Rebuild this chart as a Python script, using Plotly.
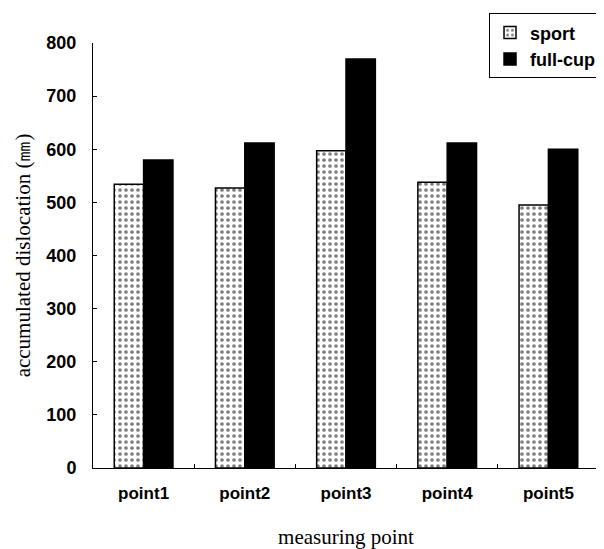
import plotly.graph_objects as go

categories = ["point1", "point2", "point3", "point4", "point5"]
sport = [534, 527, 597, 538, 495]
full_cup = [580, 612, 770, 612, 600]

fig = go.Figure()
fig.add_trace(go.Bar(
    x=categories, y=sport, name="sport",
    marker=dict(color="white", line=dict(color="black", width=1.5),
                pattern=dict(shape=".", fgcolor="black", bgcolor="white", size=6, solidity=0.3)),
))
fig.add_trace(go.Bar(
    x=categories, y=full_cup, name="full-cup",
    marker=dict(color="black", line=dict(color="black", width=1.5)),
))

# the page body has an 8px default margin, so the figure is 8px smaller
fig.update_layout(
    width=596, height=541,
    margin=dict(l=85, r=5, t=35, b=81, autoexpand=False),
    paper_bgcolor="white", plot_bgcolor="white",
    barmode="group", bargap=0.42, bargroupgap=0,
    showlegend=True,
    legend=dict(xref="container", yref="container", x=0.995, y=0.99,
                xanchor="right", yanchor="top",
                bordercolor="black", borderwidth=1, bgcolor="white",
                font=dict(family="Liberation Sans", size=18, color="black", weight="bold"),
                itemwidth=30, tracegroupgap=6),
    font=dict(family="Liberation Sans", color="black"),
)
fig.update_xaxes(
    showline=True, linecolor="black", linewidth=1,
    ticks="inside", tickson="boundaries", ticklen=4, tickcolor="black",
    tickfont=dict(family="Liberation Sans", size=17, color="black", weight="bold"),
    ticklabelstandoff=10,
    title=dict(text="measuring point", font=dict(family="Liberation Serif", size=21, color="black"), standoff=26),
    showgrid=False,
)
fig.update_yaxes(
    range=[0, 800], dtick=100,
    showline=True, linecolor="black", linewidth=1,
    ticks="inside", ticklen=4, tickcolor="black",
    tickfont=dict(family="Liberation Sans", size=18, color="black", weight="bold"),
    ticklabelstandoff=12,
    title=dict(text="accumulated dislocation (㎜)", font=dict(family="Liberation Serif", size=21, color="black"), standoff=10),
    showgrid=False, zeroline=False,
)

fig.write_html("out.html")
